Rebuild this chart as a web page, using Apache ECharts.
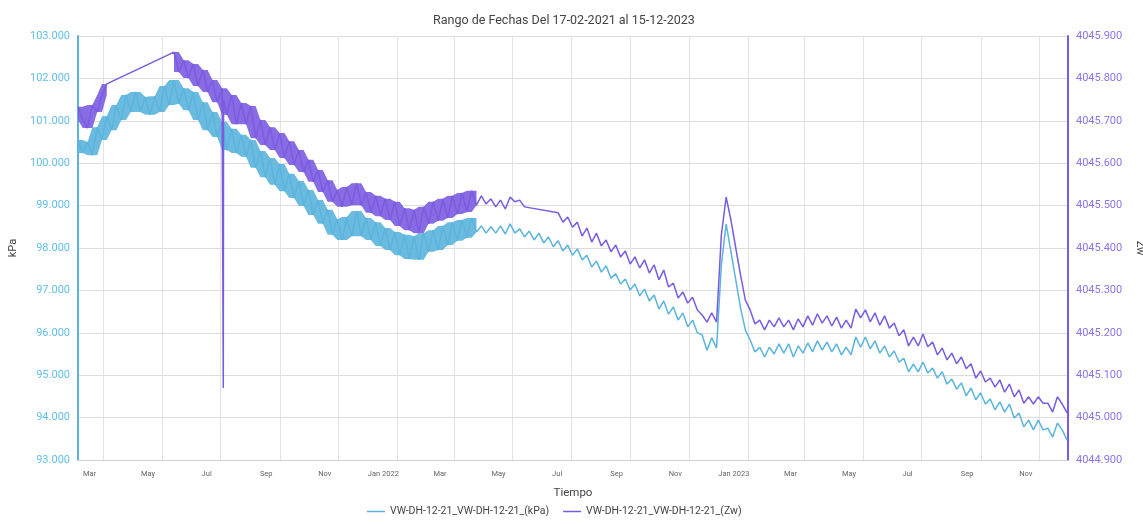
<!DOCTYPE html>
<html><head><meta charset="utf-8">
<script src="https://cdn.jsdelivr.net/npm/echarts@6/dist/echarts.min.js"></script>
<style>html,body{margin:0;padding:0;background:#fff}#c{width:1143px;height:524px}</style>
</head><body><div id="c"></div>
<script>
const titleText = 'Rango de Fechas Del 17-02-2021 al 15-12-2023';
const xAxisName = 'Tiempo';
const leftAxisName = 'kPa';
const rightAxisName = 'Zw';
const seriesNames = ['VW-DH-12-21_VW-DH-12-21_(kPa)', 'VW-DH-12-21_VW-DH-12-21_(Zw)'];
const monthNames = ['Jan','Feb','Mar','Apr','May','Jun','Jul','Aug','Sep','Oct','Nov','Dec'];
const startDate = [2021, 1, 17];
const endDate = [2023, 11, 15];
const stepDays = 5;
const kpaTicks = [93, 103, 1];
const zwTicks = [4044.9, 4045.9, 0.1];

// readings alternate between the upper and lower edge of the noisy trace
const kpaValues = [
 100.55,100.24,100.50,100.19,100.85,100.55,101.11,100.78,101.37,101.02,
 101.61,101.21,101.68,101.21,101.56,101.14,101.58,101.21,101.82,101.37,
 101.96,101.40,101.77,101.25,101.68,101.02,101.44,100.78,101.21,100.62,
 100.97,100.31,100.81,100.24,100.67,100.15,100.55,99.89,100.29,99.67,
 100.12,99.49,99.98,99.34,99.75,99.18,99.58,98.99,99.37,98.78,
 99.13,98.57,98.90,98.31,98.68,98.19,98.73,98.28,98.87,98.28,
 98.71,98.19,98.61,98.05,98.47,97.95,98.38,97.83,98.31,97.74,
 98.28,97.72,98.35,97.91,98.42,97.95,98.52,98.07,98.61,98.17,
 98.66,98.24,98.71,98.38,98.52,98.35,98.50,98.35,98.52,98.33,
 98.57,98.35,98.45,98.26,98.40,98.19,98.35,98.12,98.26,98.03,
 98.17,97.93,98.07,97.83,97.98,97.72,97.83,97.55,97.69,97.43,
 97.58,97.29,97.39,97.15,97.27,97.01,97.15,96.87,97.03,96.75,
 96.89,96.56,96.75,96.44,96.61,96.30,96.47,96.14,96.30,96.00,
 95.95,95.59,95.88,95.64,97.60,98.57,97.91,97.25,96.58,96.07,
 95.83,95.55,95.66,95.43,95.66,95.50,95.74,95.52,95.74,95.43,
 95.69,95.52,95.76,95.55,95.81,95.59,95.78,95.55,95.74,95.48,
 95.66,95.48,95.90,95.66,95.90,95.62,95.81,95.52,95.69,95.43,
 95.57,95.31,95.40,95.08,95.26,95.08,95.31,95.05,95.17,94.93,
 95.08,94.79,94.91,94.67,94.82,94.51,94.70,94.42,94.58,94.32,
 94.44,94.18,94.37,94.13,94.32,93.99,94.11,93.78,93.94,93.71,
 93.94,93.71,93.75,93.54,93.87,93.71,93.47
];

const zwValues = [
 4045.733,4045.702,4045.683,4045.737,4045.721,4045.761,4045.787,null,null,null,
 null,null,null,null,null,null,null,null,null,null,
 4045.862,4045.815,4045.843,4045.801,4045.834,4045.782,4045.820,4045.768,4045.796,4045.744,
 4045.777,4045.714,4045.761,4045.692,4045.742,4045.692,4045.735,4045.659,4045.702,4045.643,
 4045.685,4045.631,4045.671,4045.612,4045.652,4045.596,4045.631,4045.579,4045.608,4045.556,
 4045.584,4045.532,4045.560,4045.509,4045.537,4045.497,4045.544,4045.501,4045.553,4045.501,
 4045.532,4045.483,4045.523,4045.475,4045.516,4045.466,4045.509,4045.452,4045.494,4045.442,
 4045.490,4045.435,4045.497,4045.457,4045.509,4045.464,4045.516,4045.471,4045.523,4045.480,
 4045.530,4045.485,4045.535,4045.501,4045.523,4045.504,4045.516,4045.497,4045.513,4045.492,
 4045.520,4045.509,4045.513,4045.497,null,null,null,null,null,null,
 4045.483,4045.461,4045.473,4045.449,4045.461,4045.428,4045.447,4045.414,4045.435,4045.405,
 4045.419,4045.391,4045.407,4045.379,4045.393,4045.362,4045.379,4045.353,4045.372,4045.341,
 4045.360,4045.325,4045.348,4045.308,4045.317,4045.282,4045.296,4045.270,4045.284,4045.254,
 4045.242,4045.225,4045.247,4045.225,4045.431,4045.520,4045.466,4045.400,4045.336,4045.277,
 4045.254,4045.221,4045.230,4045.207,4045.230,4045.214,4045.235,4045.214,4045.230,4045.207,
 4045.233,4045.214,4045.240,4045.218,4045.245,4045.223,4045.240,4045.216,4045.237,4045.211,
 4045.230,4045.211,4045.256,4045.235,4045.254,4045.226,4045.247,4045.218,4045.240,4045.211,
 4045.223,4045.193,4045.207,4045.169,4045.190,4045.169,4045.197,4045.167,4045.178,4045.148,
 4045.164,4045.136,4045.152,4045.127,4045.143,4045.115,4045.127,4045.093,4045.110,4045.084,
 4045.093,4045.072,4045.089,4045.060,4045.079,4045.049,4045.065,4045.034,4045.049,4045.032,
 4045.049,4045.034,4045.034,4045.013,4045.049,4045.032,4045.011
];

// extra Zw readings (short drop in July 2021), as day offsets from start
const zwExtraDays = [151.3, 151.6];
const zwExtraValues = [4045.070, 4045.749];

// the trace is a dense ribbon up to this reading index (about May 2022)
const denseUntilIndex = 83;

const DAY = 86400000;
const GRID_SHIFT_DAYS = 14.5;
const t0 = Date.UTC(startDate[0], startDate[1], startDate[2]);
const t1 = Date.UTC(endDate[0], endDate[1], endDate[2]);
const tOf = i => t0 + i * stepDays * DAY;

const kpaData = kpaValues.map((v, i) => [tOf(i), v]);
const zwData = zwValues.map((v, i) => [tOf(i), v])
  .filter(p => p[1] !== null)
  .concat(zwExtraDays.map((d, i) => [t0 + d * DAY, zwExtraValues[i]]))
  .sort((a, b) => a[0] - b[0]);

// envelope of the readings (min / max of neighbouring readings) for the dense ribbon part
function envelope(vals) {
  const lo = [], span = [];
  for (let i = 0; i <= denseUntilIndex; i++) {
    if (vals[i] === null) { lo.push([tOf(i), null]); span.push([tOf(i), null]); continue; }
    const w = [vals[i - 1], vals[i], vals[i + 1]].filter(x => x !== null && x !== undefined);
    const mn = Math.min(...w), mx = Math.max(...w);
    lo.push([tOf(i), mn]);
    span.push([tOf(i), mx - mn]);
  }
  return {lo, span};
}
const kpaEnv = envelope(kpaValues);
const zwEnv = envelope(zwValues);

const blue = '#5BB4DD';
const purple = '#7B5CE1';
const FONT = 'Roboto';

function bandSeries(env, yIdx, color, stackId) {
  return [{
    type: 'line', xAxisIndex: 0, yAxisIndex: yIdx, stack: stackId, data: env.lo,
    showSymbol: false, symbol: 'none', silent: true, lineStyle: {opacity: 0}, z: 1
  }, {
    type: 'line', xAxisIndex: 0, yAxisIndex: yIdx, stack: stackId, data: env.span,
    showSymbol: false, symbol: 'none', silent: true, lineStyle: {opacity: 0},
    areaStyle: {color: color, opacity: 0.9}, z: 1
  }];
}

const chart = echarts.init(document.getElementById('c'), null, {renderer: 'canvas'});
chart.setOption({
  useUTC: true,
  animation: false,
  backgroundColor: '#fff',
  textStyle: {fontFamily: FONT},
  title: {
    text: titleText, left: 428, top: 9,
    textStyle: {fontSize: 12.5, fontWeight: 'normal', color: '#444', fontFamily: FONT}
  },
  legend: {
    bottom: 2, left: 362, icon: 'rect', itemWidth: 18, itemHeight: 1.5, itemGap: 14,
    textStyle: {fontSize: 10.5, color: '#444', fontFamily: FONT},
    data: seriesNames
  },
  grid: {left: 78, right: 75, top: 36, bottom: 64, containLabel: false, outerBoundsMode: 'none'},
  xAxis: [{
    type: 'time', min: t0, max: t1, splitNumber: 14,
    name: xAxisName, nameLocation: 'middle', nameGap: 27,
    nameTextStyle: {fontSize: 11.5, color: '#444', fontFamily: FONT},
    axisLine: {show: true, lineStyle: {color: '#d0d0d0'}},
    axisTick: {show: false},
    splitLine: {show: false},
    axisLabel: {
      fontSize: 7.5, color: '#666', margin: 10, fontFamily: FONT,
      formatter: function (value) {
        const d = new Date(value);
        const m = d.getUTCMonth();
        return m === 0 ? 'Jan ' + d.getUTCFullYear() : monthNames[m];
      }
    }
  }, {
    type: 'time', min: t0 - GRID_SHIFT_DAYS * DAY, max: t1 - GRID_SHIFT_DAYS * DAY, splitNumber: 14,
    position: 'bottom',
    axisLine: {show: false}, axisTick: {show: false}, axisLabel: {show: false},
    splitLine: {show: true, lineStyle: {color: '#e3e3e3', width: 1}}
  }],
  yAxis: [{
    type: 'value', position: 'left',
    min: kpaTicks[0], max: kpaTicks[1], interval: kpaTicks[2],
    name: leftAxisName, nameLocation: 'middle', nameGap: 51,
    nameTextStyle: {fontSize: 11, color: '#444', fontFamily: FONT},
    axisLine: {show: true, lineStyle: {color: blue, width: 2}},
    axisTick: {show: false},
    axisLabel: {color: '#62BFE8', fontSize: 11, margin: 8, fontFamily: FONT,
      formatter: v => v.toFixed(3)},
    splitLine: {show: true, lineStyle: {color: '#dcdcdc', width: 1}}
  }, {
    type: 'value', position: 'right',
    min: zwTicks[0], max: zwTicks[1], interval: zwTicks[2],
    name: rightAxisName, nameLocation: 'middle', nameGap: 66, nameRotate: -90,
    nameTextStyle: {fontSize: 11, color: '#444', fontFamily: FONT},
    axisLine: {show: true, lineStyle: {color: purple, width: 2}},
    axisTick: {show: false},
    axisLabel: {color: '#8B73E8', fontSize: 11, margin: 8, fontFamily: FONT,
      formatter: v => v.toFixed(3)},
    splitLine: {show: false}
  }],
  series: [
    ...bandSeries(kpaEnv, 0, blue, 'kpaBand'),
    ...bandSeries(zwEnv, 1, purple, 'zwBand'),
    {
      name: seriesNames[0], type: 'line', xAxisIndex: 0, yAxisIndex: 0,
      data: kpaData, showSymbol: false, symbol: 'none',
      lineStyle: {color: blue, width: 1.5}, itemStyle: {color: blue}, z: 2
    }, {
      name: seriesNames[1], type: 'line', xAxisIndex: 0, yAxisIndex: 1,
      data: zwData, showSymbol: false, symbol: 'none',
      lineStyle: {color: purple, width: 1.5}, itemStyle: {color: purple}, z: 3
    }
  ]
});
</script></body></html>
